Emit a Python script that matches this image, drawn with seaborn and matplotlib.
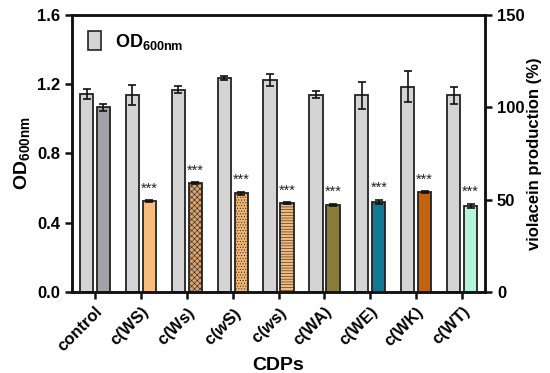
import numpy as np
import pandas as pd
import matplotlib
matplotlib.use("Agg")
import matplotlib.pyplot as plt
import seaborn as sns
from matplotlib.patches import Patch

# data
cdps = ["control", "c(WS)", "c(Ws)", "c(wS)", "c(ws)", "c(WA)", "c(WE)", "c(WK)", "c(WT)"]
tick_labels = ["control", "c(WS)", r"c(W$\mathrm{s}$)", r"c($\mathit{w}$S)",
               r"c($\mathit{w}\mathrm{s}$)", "c(WA)", "c(WE)", "c(WK)", "c(WT)"]
od600 = [1.145, 1.138, 1.167, 1.236, 1.225, 1.140, 1.135, 1.185, 1.135]
od600_err = [0.03, 0.06, 0.02, 0.01, 0.035, 0.02, 0.08, 0.09, 0.05]
violacein = [100.0, 49.3, 59.0, 53.6, 48.2, 47.1, 48.7, 54.1, 46.6]
violacein_err = [2.0, 0.5, 0.5, 0.8, 0.4, 0.7, 1.2, 0.5, 1.2]
viol_colors = ["#a2a2a6", "#f5be7d", "#dba36d", "#efb676", "#f2ba7c",
               "#8a7b3b", "#0f7a94", "#c5620d", "#b3f5dc"]
viol_hatches = [None, None, "xxxxxx", "......", "------", None, None, None, None]
stars = ["", "***", "***", "***", "***", "***", "***", "***", "***"]

sns.set_style("ticks")
plt.rcParams["font.family"] = ["Liberation Sans", "DejaVu Sans"]
plt.rcParams["font.weight"] = "bold"
plt.rcParams["axes.labelweight"] = "bold"
plt.rcParams["text.color"] = "black"
plt.rcParams["axes.labelcolor"] = "black"
plt.rcParams["xtick.color"] = "black"
plt.rcParams["ytick.color"] = "black"
plt.rcParams["mathtext.fontset"] = "custom"
plt.rcParams["mathtext.rm"] = "Liberation Sans"
plt.rcParams["mathtext.it"] = "Liberation Sans:italic"
plt.rcParams["mathtext.bf"] = "Liberation Sans:bold"
plt.rcParams["hatch.linewidth"] = 0.4
plt.rcParams["hatch.color"] = "#b98550"

df_od = pd.DataFrame({"cdp": cdps, "measure": "od", "value": od600})
df_vi = pd.DataFrame({"cdp": cdps, "measure": "viol", "value": violacein})
hue_order = ["od", "viol"]

fig = plt.figure(figsize=(5.5, 3.73), dpi=100)
ax = fig.add_axes([0.131, 0.217, 0.751, 0.743])
ax2 = ax.twinx()

sns.barplot(data=df_od, x="cdp", y="value", hue="measure", hue_order=hue_order,
            order=cdps, palette={"od": "#d4d4d4", "viol": "#d4d4d4"}, dodge=True,
            width=0.74, gap=0.22, errorbar=None, edgecolor="#222222",
            linewidth=1.3, legend=False, ax=ax)
sns.barplot(data=df_vi, x="cdp", y="value", hue="measure", hue_order=hue_order,
            order=cdps, palette={"od": "#d4d4d4", "viol": "#a2a2a6"}, dodge=True,
            width=0.74, gap=0.22, errorbar=None, edgecolor="#222222",
            linewidth=1.3, legend=False, ax=ax2)

od_bars = sorted([p for p in ax.patches if p.get_height() > 0], key=lambda p: p.get_x())
vi_bars = sorted([p for p in ax2.patches if p.get_height() > 0], key=lambda p: p.get_x())

for i, p in enumerate(vi_bars):
    p.set_facecolor(viol_colors[i])
    if viol_hatches[i]:
        p.set_hatch(viol_hatches[i])
        try:
            p.set_hatchcolor("#b98550")
        except AttributeError:
            pass

od_x = [p.get_x() + p.get_width() / 2 for p in od_bars]
vi_x = [p.get_x() + p.get_width() / 2 for p in vi_bars]
ax.errorbar(od_x, od600, yerr=od600_err, fmt="none", ecolor="#111111",
            elinewidth=1.2, capsize=3, capthick=1.2)
ax2.errorbar(vi_x, violacein, yerr=violacein_err, fmt="none", ecolor="#111111",
             elinewidth=1.2, capsize=3, capthick=1.2)

for x, v, e, s in zip(vi_x, violacein, violacein_err, stars):
    if s:
        ax2.text(x, v + e + 2.5, s, ha="center", va="bottom", fontsize=10.5,
                 fontweight="normal", color="#222222")

ax.set_xlim(-0.5, 8.5)
ax.set_ylim(0, 1.6)
ax.set_yticks([0.0, 0.4, 0.8, 1.2, 1.6])
ax.set_yticklabels(["0.0", "0.4", "0.8", "1.2", "1.6"])
ax2.set_ylim(0, 150)
ax2.set_yticks([0, 50, 100, 150])

ax.set_xticks(range(len(cdps)))
ax.set_xticklabels(tick_labels, rotation=45, ha="right", rotation_mode="anchor",
                   fontsize=12, fontweight="bold")
ax.set_xlabel("CDPs", fontsize=14, fontweight="bold", labelpad=2)
ax.set_ylabel("OD$_{\\mathbf{600nm}}$", fontsize=14, fontweight="bold", labelpad=4)
ax2.set_ylabel("violacein production (%)", fontsize=12, fontweight="bold", labelpad=2)

for a in (ax, ax2):
    for sp in a.spines.values():
        sp.set_linewidth(1.8)
        sp.set_color("#111111")
    a.tick_params(width=1.8, length=5, labelsize=12, color="#111111")
ax.spines["top"].set_visible(True)
ax2.spines["top"].set_visible(True)

ax.legend(handles=[Patch(facecolor="#d4d4d4", edgecolor="#222222", linewidth=1.2)],
          labels=["OD$_{\\mathbf{600nm}}$"], loc="upper left", frameon=False,
          fontsize=13, handlelength=0.7, handleheight=1.2, borderaxespad=0.5,
          bbox_to_anchor=(0.0, 1.0))

fig.savefig("out.png", dpi=100)
